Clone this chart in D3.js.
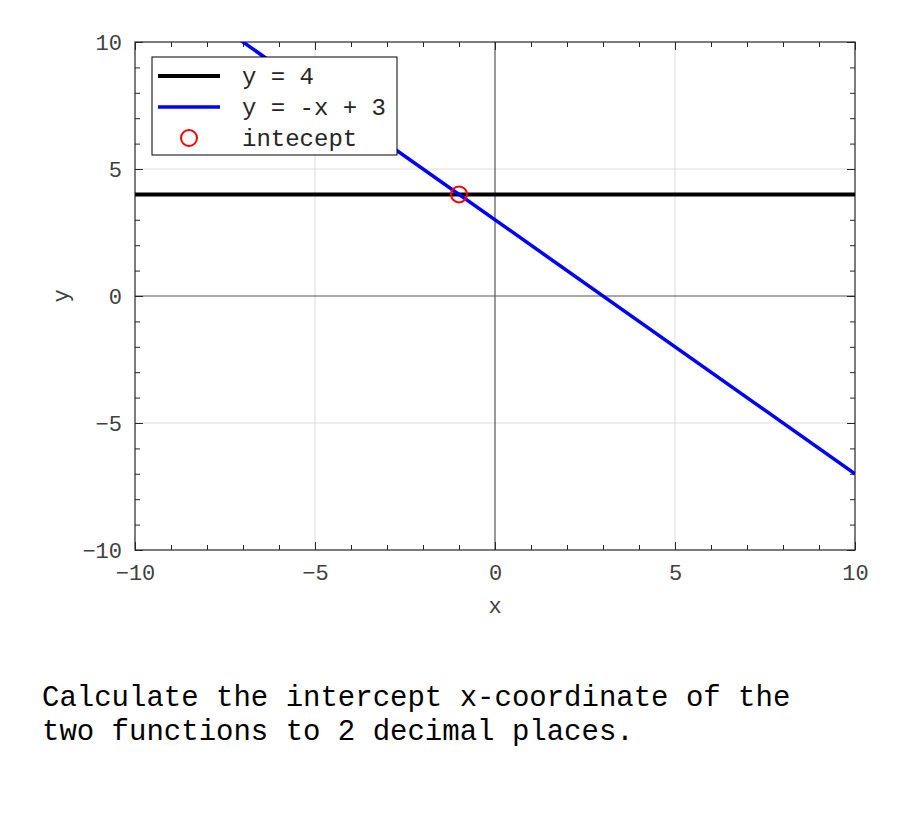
<!DOCTYPE html>
<html><head><meta charset="utf-8">
<script src="https://cdn.jsdelivr.net/npm/d3@7"></script>
<style>body{margin:0;background:#fff;} svg{display:block;}</style>
</head><body>
<script>
const xDomain = [-10, 10];
const yDomain = [-10, 10];
const majorTicks = [-10, -5, 0, 5, 10];
const minorTicks = [-9,-8,-7,-6,-4,-3,-2,-1,1,2,3,4,6,7,8,9];
const seriesNames = ["y = 4", "y = -x + 3", "intecept"];
const line1 = [[-10, 4], [10, 4]];
const line2 = [[-10, 13], [10, -7]];
const intercept = [[-1, 4]];
const question = ["Calculate the intercept x-coordinate of the", "two functions to 2 decimal places."];

const W = 900, H = 825;
const L = 135, R = 855, T = 42, B = 550;
const svg = d3.select("body").append("svg").attr("width", W).attr("height", H);
const x = d3.scaleLinear().domain(xDomain).range([L, R]);
const y = d3.scaleLinear().domain(yDomain).range([B, T]);
const font = "'Liberation Mono', 'DejaVu Sans Mono', monospace";
const axCol = "#262626";
const lblCol = "#404040";

svg.append("defs").append("clipPath").attr("id","clip").append("rect")
  .attr("x", L).attr("y", T).attr("width", R-L).attr("height", B-T);

// grid
const g = svg.append("g");
majorTicks.filter(v => v !== 0 && Math.abs(v) !== 10).forEach(v => {
  g.append("line").attr("x1", x(v)).attr("x2", x(v)).attr("y1", T).attr("y2", B).attr("stroke", "#dcdcdc").attr("stroke-width", 1);
  g.append("line").attr("y1", y(v)).attr("y2", y(v)).attr("x1", L).attr("x2", R).attr("stroke", "#dcdcdc").attr("stroke-width", 1);
});
// zero axes
g.append("line").attr("x1", x(0)).attr("x2", x(0)).attr("y1", T).attr("y2", B).attr("stroke", "#555").attr("stroke-width", 1.2);
g.append("line").attr("y1", y(0)).attr("y2", y(0)).attr("x1", L).attr("x2", R).attr("stroke", "#555").attr("stroke-width", 1.2);

// axes with inward ticks
function addAxis(axisGen, tr, vals, len, labels) {
  const a = svg.append("g").attr("transform", tr)
    .call(axisGen.tickValues(vals).tickSize(len).tickFormat(labels ? d3.format("d") : ""));
  a.select(".domain").remove();
  a.selectAll(".tick line").attr("stroke", axCol).attr("stroke-width", 1);
  a.selectAll(".tick text").attr("fill", lblCol).attr("font-family", font).attr("font-size", 22);
  return a;
}
const bx = addAxis(d3.axisBottom(x).tickSizeOuter(0), `translate(0,${B})`, majorTicks, -8, true);
bx.selectAll(".tick text").attr("y", 14).attr("dy", "0.71em").text(d => d3.format("d")(d).replace("-", "\u2212"));
addAxis(d3.axisBottom(x), `translate(0,${B})`, minorTicks, -5, false);
addAxis(d3.axisTop(x), `translate(0,${T})`, majorTicks, -8, false);
addAxis(d3.axisTop(x), `translate(0,${T})`, minorTicks, -5, false);
const ly = addAxis(d3.axisLeft(y), `translate(${L},0)`, majorTicks, -8, true);
ly.selectAll(".tick text").attr("x", -13).text(d => d3.format("d")(d).replace("-", "\u2212"));
addAxis(d3.axisLeft(y), `translate(${L},0)`, minorTicks, -5, false);
addAxis(d3.axisRight(y), `translate(${R},0)`, majorTicks, -8, false);
addAxis(d3.axisRight(y), `translate(${R},0)`, minorTicks, -5, false);

// frame
svg.append("rect").attr("x", L).attr("y", T).attr("width", R-L).attr("height", B-T)
  .attr("fill", "none").attr("stroke", axCol).attr("stroke-width", 1.2);

// data
const lineGen = d3.line().x(d => x(d[0])).y(d => y(d[1]));
const plot = svg.append("g").attr("clip-path", "url(#clip)");
plot.append("path").datum(line1).attr("d", lineGen).attr("fill","none").attr("stroke","#000").attr("stroke-width", 4);
plot.append("path").datum(line2).attr("d", lineGen).attr("fill","none").attr("stroke","#0000ff").attr("stroke-width", 3.5);
plot.selectAll("circle").data(intercept).join("circle")
  .attr("cx", d => x(d[0])).attr("cy", d => y(d[1])).attr("r", 8)
  .attr("fill","none").attr("stroke","#ff0000").attr("stroke-width", 2);

// axis labels
svg.append("text").attr("x", x(0)).attr("y", 613).attr("text-anchor","middle")
  .attr("font-family", font).attr("font-size", 22).attr("fill", lblCol).text("x");
svg.append("text").attr("transform", `translate(68,${y(0)}) rotate(-90)`).attr("text-anchor","middle")
  .attr("font-family", font).attr("font-size", 22).attr("fill", lblCol).text("y");

// legend
const lg = svg.append("g");
lg.append("rect").attr("x", 152).attr("y", 57).attr("width", 245).attr("height", 98)
  .attr("fill", "#fff").attr("stroke", "#000").attr("stroke-width", 1);
const rows = [76, 107, 138];
lg.append("line").attr("x1", 158).attr("x2", 220).attr("y1", rows[0]).attr("y2", rows[0]).attr("stroke","#000").attr("stroke-width",4);
lg.append("line").attr("x1", 158).attr("x2", 220).attr("y1", rows[1]).attr("y2", rows[1]).attr("stroke","#0000ff").attr("stroke-width",3.5);
lg.append("circle").attr("cx", 189).attr("cy", rows[2]).attr("r", 8).attr("fill","none").attr("stroke","#ff0000").attr("stroke-width",2);
seriesNames.forEach((s, i) => {
  lg.append("text").attr("x", 242).attr("y", rows[i]).attr("dy", "0.35em")
    .attr("font-family", font).attr("font-size", 24).attr("fill", axCol).attr("xml:space","preserve").text(s);
});

// question text
question.forEach((t, i) => {
  svg.append("text").attr("x", 42).attr("y", 706 + i * 34)
    .attr("font-family", font).attr("font-size", 29).attr("fill", "#000").text(t);
});
</script>
</body></html>
